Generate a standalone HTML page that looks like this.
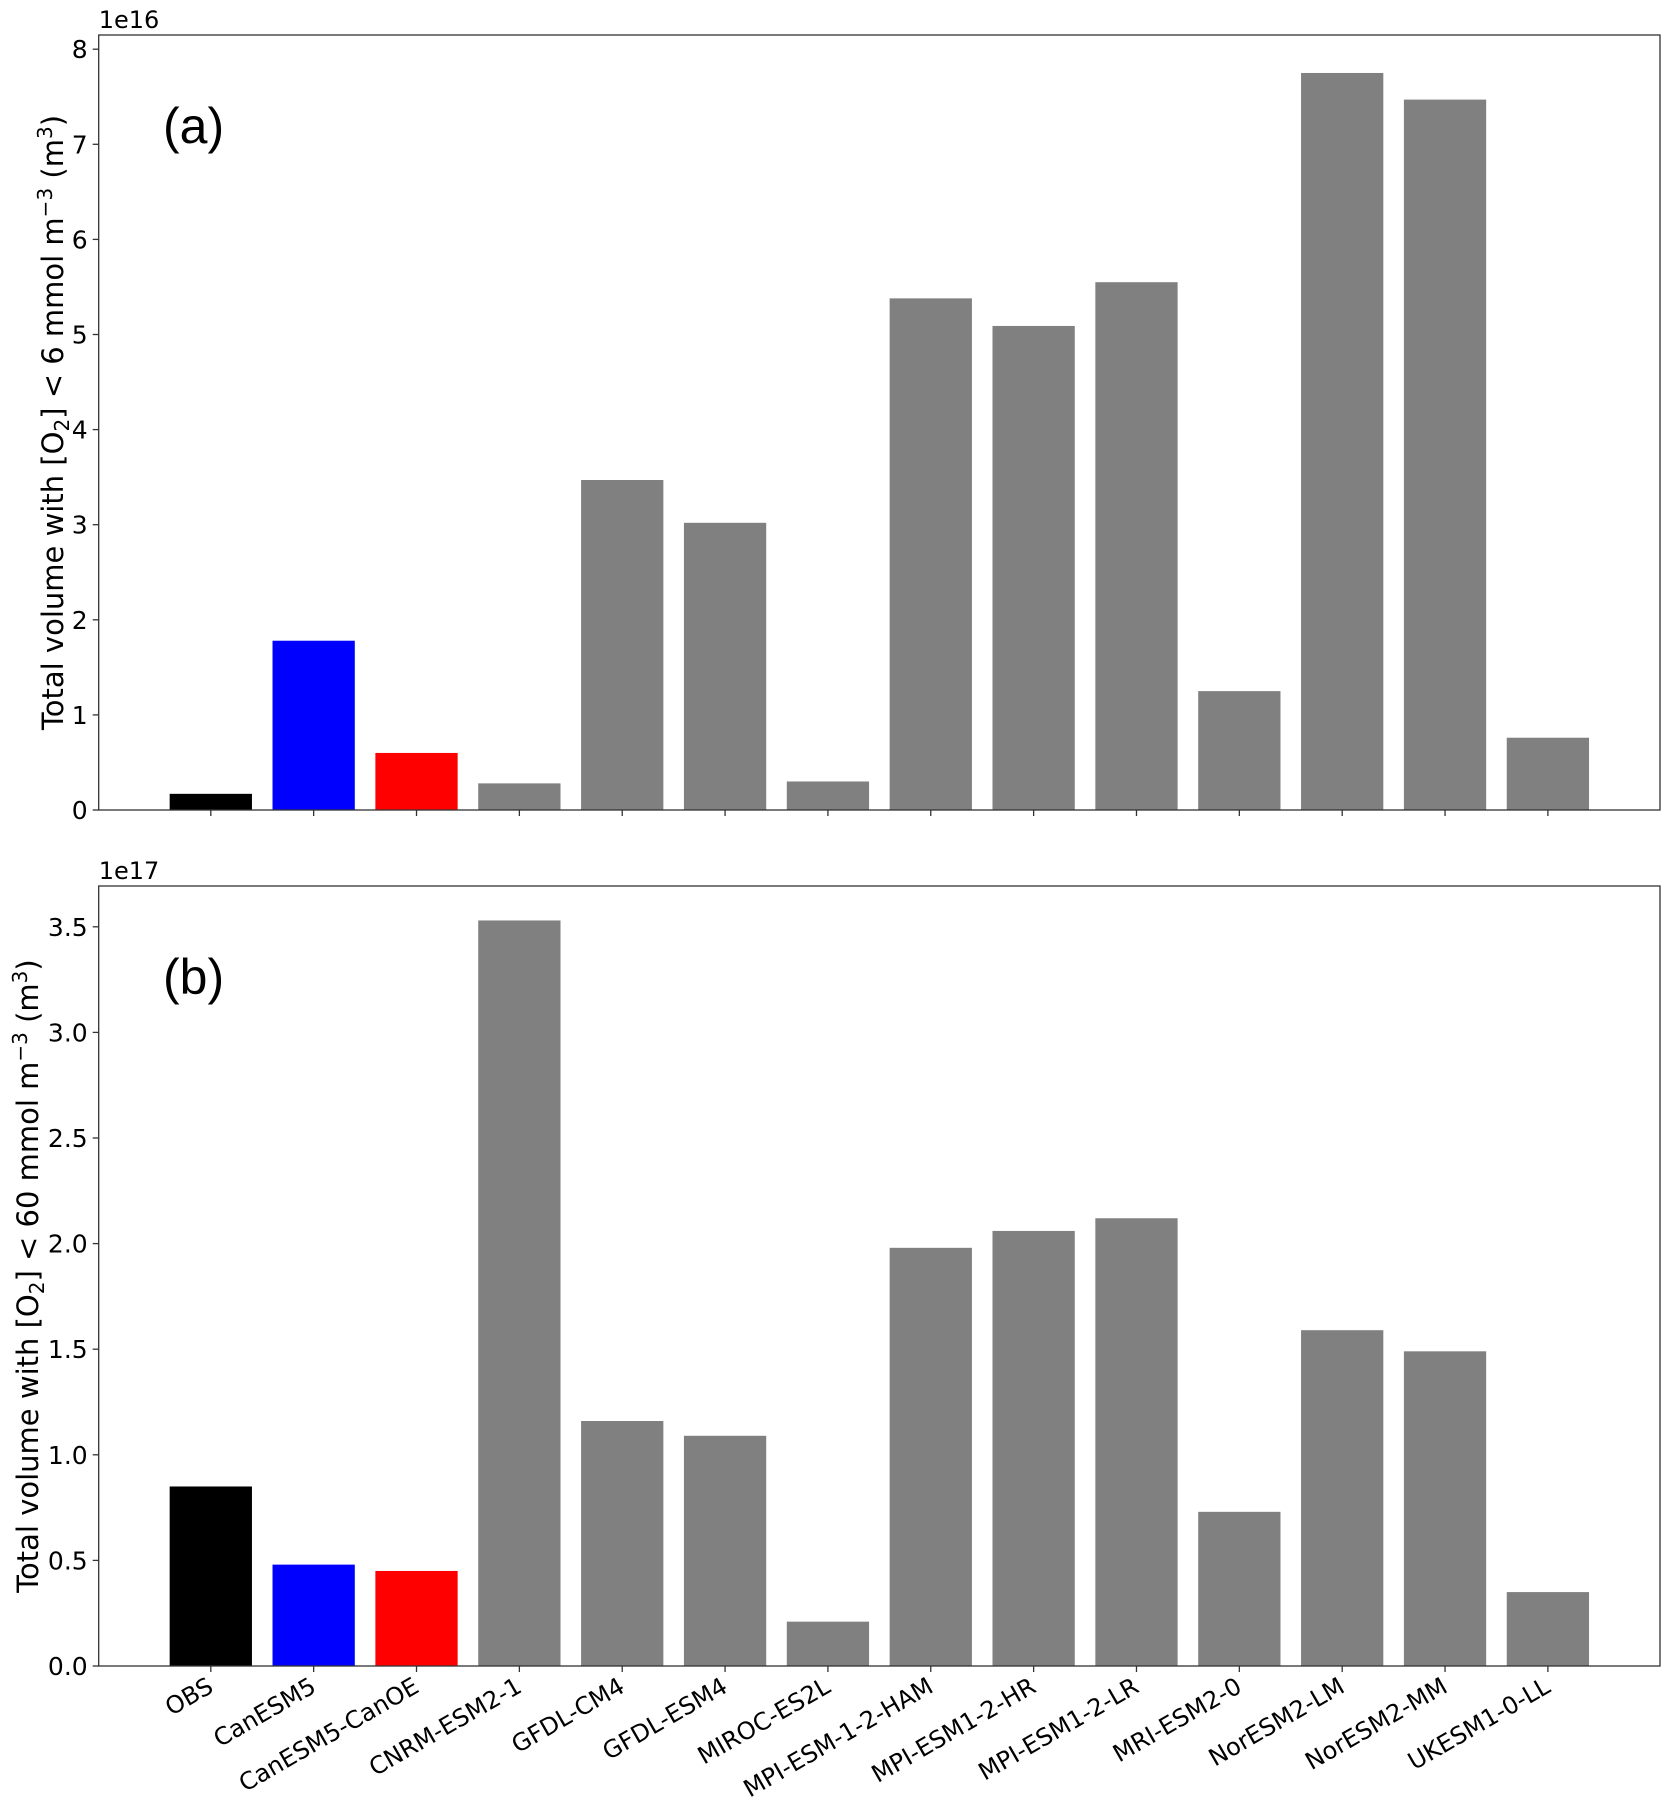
<!DOCTYPE html>
<html><head><meta charset="utf-8"><style>body{margin:0;background:#fff}svg{display:block;font-family:"DejaVu Sans","Liberation Sans",sans-serif}</style></head>
<body>
<svg id="c" width="1675" height="1812" viewBox="0 0 1675 1812"></svg>
<script>
const categories=["OBS","CanESM5","CanESM5-CanOE","CNRM-ESM2-1","GFDL-CM4","GFDL-ESM4","MIROC-ES2L","MPI-ESM-1-2-HAM","MPI-ESM1-2-HR","MPI-ESM1-2-LR","MRI-ESM2-0","NorESM2-LM","NorESM2-MM","UKESM1-0-LL"];
const valuesA=[0.17,1.78,0.60,0.28,3.47,3.02,0.30,5.38,5.09,5.55,1.25,7.75,7.47,0.76];
const valuesB=[0.85,0.48,0.45,3.53,1.16,1.09,0.21,1.98,2.06,2.12,0.73,1.59,1.49,0.35];
const colors=["#000000","#0000ff","#ff0000","#808080","#808080","#808080","#808080","#808080","#808080","#808080","#808080","#808080","#808080","#808080"];
const ticksA=[0,1,2,3,4,5,6,7,8];
const tickLabelsA=["0","1","2","3","4","5","6","7","8"];
const ticksB=[0,0.5,1,1.5,2,2.5,3,3.5];
const tickLabelsB=["0.0","0.5","1.0","1.5","2.0","2.5","3.0","3.5"];
const NS="http://www.w3.org/2000/svg";
const svg=document.getElementById('c');
function mk(t,a,p){const e=document.createElementNS(NS,t);for(const k in a)e.setAttribute(k,a[k]);(p||svg).appendChild(e);return e;}
const L=98.7,R=1660;
function xs(i){return L+(i+1.09)*(R-L)/15.18;}
const bw=0.8*(R-L)/15.18;
function panel(name,top,bottom,ys,vals,ticks,labels,exp,ylabelHtml,ylx,tag,showX){
  const g=mk('g',{});
  
  
  vals.forEach((v,i)=>{
    const y=ys(v);
    const r=mk('rect',{x:xs(i)-bw/2,y:y,width:bw,height:bottom-y,fill:colors[i]},g);
    
    
  });
  mk('rect',{x:L,y:top,width:R-L,height:bottom-top,fill:'none',stroke:'#333','stroke-width':1.3},g);
  ticks.forEach((t,i)=>{
    const y=ys(t);
    mk('line',{x1:L-6,x2:L,y1:y,y2:y,stroke:'#333','stroke-width':1.3},g);
    const tx=mk('text',{x:L-11,y:y+9,'font-size':25,'text-anchor':'end'},g);
    tx.textContent=labels[i];
    
    
  });
  categories.forEach((c,i)=>{
    const x=xs(i);
    mk('line',{x1:x,x2:x,y1:bottom,y2:bottom+6,stroke:'#333','stroke-width':1.3},g);
    if(showX){
      const tx=mk('text',{x:0,y:0,'font-size':24,'text-anchor':'end',transform:`translate(${x+4},${bottom+25}) rotate(-30)`},g);
      tx.textContent=c;
      
      
    }
  });
  const e=mk('text',{x:L,y:top-7,'font-size':24},g);e.textContent=exp;
  
  const tg=mk('text',{x:163,y:top+108,'font-size':50,'font-family':'Liberation Sans,sans-serif'},g);tg.textContent=tag;
  
  const yl=mk('text',{x:0,y:0,'font-size':29,'text-anchor':'middle',transform:`translate(${ylx},${(top+bottom)/2}) rotate(-90)`},g);
  yl.innerHTML=ylabelHtml;
  
}
panel('panel-a',35,810,v=>810-v*95.1,valuesA,ticksA,tickLabelsA,'1e16','Total volume with [O<tspan dy="6" font-size="20">2</tspan><tspan dy="-6">] &lt;  6 mmol m</tspan><tspan dy="-11" font-size="20">−3</tspan><tspan dy="11"> (m</tspan><tspan dy="-11" font-size="20">3</tspan><tspan dy="11">)</tspan>',63,'(a)',false);
panel('panel-b',886,1666,v=>1666-v*211.2,valuesB,ticksB,tickLabelsB,'1e17','Total volume with [O<tspan dy="6" font-size="20">2</tspan><tspan dy="-6">] &lt; 60 mmol m</tspan><tspan dy="-11" font-size="20">−3</tspan><tspan dy="11"> (m</tspan><tspan dy="-11" font-size="20">3</tspan><tspan dy="11">)</tspan>',38,'(b)',true);
</script>
</body></html>
